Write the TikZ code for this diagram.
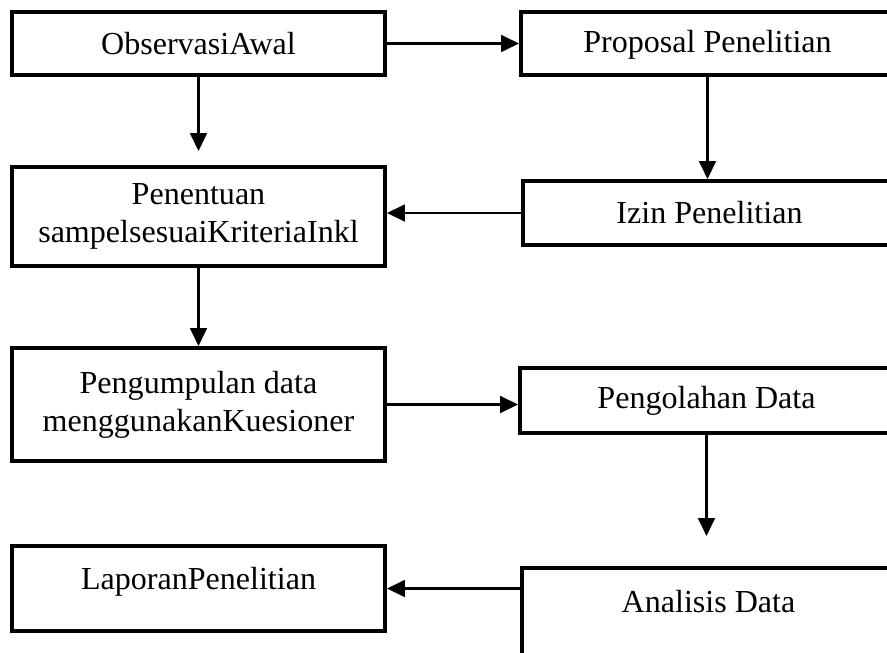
\documentclass[tikz,border=0pt]{standalone}
\usepackage{fontspec}
\setmainfont{Liberation Serif}
\usepackage{tikz}
\usetikzlibrary{arrows.meta, positioning}

\begin{document}
\begin{tikzpicture}[
    box/.style={rectangle, draw=black, line width=2.8pt, fill=white, minimum width=9.325cm, align=center, font=\fontsize{22.8}{27}\selectfont},
    arrow/.style={-{Triangle[length=0.45cm, width=0.42cm]}, line width=1.7pt, black}
]
    \useasboundingbox (0, 0) rectangle (22.175, 16.3);

    % Left column
    \node[box, minimum height=1.575cm] (obs) at (4.9625, 15.2125) {ObservasiAwal};
    \node[box, minimum height=2.475cm] (pen) at (4.9625, 10.8875) {Penentuan\\sampelsesuaiKriteriaInkl};
    \node[box, minimum height=2.825cm] (pgp) at (4.9625, 6.1875) {Pengumpulan data\\menggunakanKuesioner};
    \node[box, minimum height=2.125cm, text depth=0.5cm] (lap) at (4.9625, 1.5875) {LaporanPenelitian};

    % Right column
    \node[box, minimum height=1.575cm, text depth=0.1cm] (prop) at (17.6875, 15.2125) {Proposal Penelitian};
    \node[box, minimum height=1.6cm] (izin) at (17.7375, 10.975) {Izin Penelitian};
    \node[box, minimum height=1.625cm] (olah) at (17.6625, 6.2875) {Pengolahan Data};
    \node[box, minimum height=2.55cm, text depth=0.875cm] (anl) at (17.7125, 0.825) {Analisis Data};

    % Arrows
    \draw[arrow] (obs.east) -- (prop.west);
    \draw[arrow, shorten >=0.35cm] (obs.south) -- (pen.north);
    \draw[arrow] (prop.south) -- (prop.south |- izin.north);
    \draw[arrow] (izin.west) -- (izin.west -| pen.east);
    \draw[arrow] (pen.south) -- (pgp.north);
    \draw[arrow] (pgp.east) -- (pgp.east -| olah.west);
    \draw[arrow, shorten >=0.75cm] (olah.south) -- (olah.south |- anl.north);
    \draw[arrow] (anl.west |- lap.east) -- (lap.east);
\end{tikzpicture}
\end{document}
